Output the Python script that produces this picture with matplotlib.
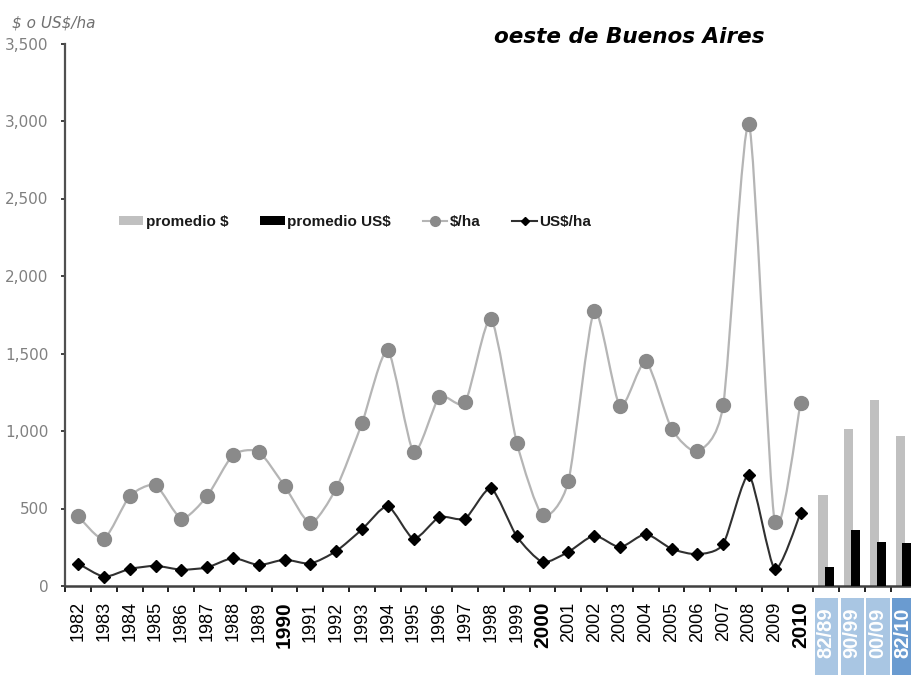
import numpy as np
import matplotlib
matplotlib.use("Agg")
import matplotlib.pyplot as plt
from matplotlib.path import Path
from matplotlib.patches import PathPatch, Patch, Rectangle
from matplotlib.lines import Line2D
import matplotlib.transforms as mtransforms

# ---------------- data ----------------
years = ['1982', '1983', '1984', '1985', '1986', '1987', '1988', '1989', '1990',
         '1991', '1992', '1993', '1994', '1995', '1996', '1997', '1998', '1999',
         '2000', '2001', '2002', '2003', '2004', '2005', '2006', '2007', '2008',
         '2009', '2010']
peso_ha = [450, 305, 580, 650, 435, 580, 845, 865, 645, 405, 630, 1050, 1520, 865,
           1220, 1185, 1725, 925, 455, 675, 1775, 1160, 1450, 1015, 870, 1165, 2980,
           410, 1180]
usd_ha = [145, 60, 110, 130, 105, 120, 180, 135, 170, 145, 225, 365, 515, 305, 445,
          435, 630, 320, 155, 220, 325, 250, 335, 240, 205, 270, 715, 110, 470]
periods = ['82/89', '90/99', '00/09', '82/10']
prom_peso = [585, 1015, 1200, 965]
prom_usd = [125, 360, 285, 275]
bold_years = ['1990', '2000', '2010']
yticks = [0, 500, 1000, 1500, 2000, 2500, 3000, 3500]
ytick_labels = ['0', '500', '1,000', '1,500', '2,000', '2,500', '3,000', '3,500']

# ---------------- style ----------------
C_PESO_LINE = '#b5b5b5'
C_PESO_MARK = '#8a8a8a'
C_USD_LINE = '#303030'
C_BAR_PESO = '#c0c0c0'
C_BAR_USD = '#000000'
C_BOX = '#a9c6e3'
C_BOX_LAST = '#6a9bd0'
TENSION = 1.0 / 9.0


def smooth_path(xs, ys):
    pts = np.column_stack([xs, ys]).astype(float)
    n = len(pts)
    verts = [tuple(pts[0])]
    codes = [Path.MOVETO]
    for i in range(n - 1):
        p0 = pts[i - 1] if i > 0 else pts[i]
        p1 = pts[i]
        p2 = pts[i + 1]
        p3 = pts[i + 2] if i + 2 < n else pts[i + 1]
        c1 = p1 + (p2 - p0) * TENSION
        c2 = p2 - (p3 - p1) * TENSION
        verts += [tuple(c1), tuple(c2), tuple(p2)]
        codes += [Path.CURVE4] * 3
    return Path(verts, codes)


fig = plt.figure(figsize=(9.12, 6.75), dpi=100)
ax_left = 65.3 / 912
ax_bottom = 1 - 586 / 675
ax_top = 1 - 43.5 / 675
ax = fig.add_axes([ax_left, ax_bottom, 1 - ax_left, ax_top - ax_bottom])

x_years = np.arange(len(years))
x_periods = np.arange(len(years), len(years) + len(periods))

# bars
bw = 0.36
ax.bar(x_periods - 0.13, prom_peso, width=bw, color=C_BAR_PESO, zorder=2)
ax.bar(x_periods + 0.13, prom_usd, width=bw, color=C_BAR_USD, zorder=3)

# smoothed lines
ax.add_patch(PathPatch(smooth_path(x_years, peso_ha), fill=False,
                       edgecolor=C_PESO_LINE, lw=1.6, zorder=3))
ax.add_patch(PathPatch(smooth_path(x_years, usd_ha), fill=False,
                       edgecolor=C_USD_LINE, lw=1.5, zorder=3))
ax.plot(x_years, peso_ha, linestyle='none', marker='o', ms=10,
        color=C_PESO_MARK, zorder=4)
ax.plot(x_years, usd_ha, linestyle='none', marker='D', ms=6.5,
        color='black', zorder=5)

ax.set_xlim(-0.5, 32.32)
ax.set_ylim(0, 3500)

# spines
for s in ['top', 'right']:
    ax.spines[s].set_visible(False)
ax.spines['left'].set_color('#505050')
ax.spines['left'].set_linewidth(1.6)
ax.spines['bottom'].set_color('#404040')
ax.spines['bottom'].set_linewidth(1.8)

# y ticks
ax.set_yticks(yticks)
ax.set_yticklabels(ytick_labels, fontsize=11, color='#808080',
                   family='DejaVu Sans')
ax.tick_params(axis='y', direction='out', length=3, width=1.4,
               color='#404040', pad=9)

# x ticks: boundaries as minor ticks, labels at centres
ax.set_xticks(np.arange(-0.5, 32.5, 1.0), minor=True)
ax.set_xticks(x_years)
ax.set_xticklabels(years, rotation=90, family='Liberation Sans',
                   fontsize=13, color='black')
for lbl in ax.get_xticklabels():
    if lbl.get_text() in bold_years:
        lbl.set_fontweight('bold')
        lbl.set_fontsize(15)
ax.tick_params(axis='x', which='major', length=0, pad=11)
ax.tick_params(axis='x', which='minor', direction='out', length=4,
               width=1.4, color='#202020')

# period labels with boxes
trans = mtransforms.blended_transform_factory(ax.transData, ax.transAxes)
for i, (xp, lab) in enumerate(zip(x_periods, periods)):
    last = i == len(periods) - 1
    col = C_BOX_LAST if last else C_BOX
    ax.add_patch(Rectangle((xp - 0.45, -0.25), 0.9, 0.25 - 0.0221,
                           transform=trans, clip_on=False,
                           facecolor=col, edgecolor='none', zorder=1))
    ax.text(xp - (0.05 if last else 0.0), -0.040, lab, transform=trans,
            rotation=90, ha='center', va='top', color='white',
            fontsize=14.5, fontweight='bold', family='Liberation Sans',
            clip_on=False, zorder=2)

# legend
handles = [
    Patch(facecolor=C_BAR_PESO, edgecolor='none'),
    Patch(facecolor=C_BAR_USD, edgecolor='none'),
    Line2D([0], [0], color=C_PESO_LINE, lw=1.5, marker='o', ms=7,
           markerfacecolor=C_PESO_MARK, markeredgecolor=C_PESO_MARK),
    Line2D([0], [0], color=C_USD_LINE, lw=1.5, marker='D', ms=4.5,
           markerfacecolor='black', markeredgecolor='black'),
]
labels = ['promedio \\$', 'promedio US\\$', '\\$/ha', 'US\\$/ha']
leg = fig.legend(handles, labels, loc='center',
                 bbox_to_anchor=(355 / 912, 1 - 222 / 675), ncol=4,
                 frameon=False, handlelength=1.6, handleheight=0.55,
                 handletextpad=0.15, columnspacing=2.1, borderpad=0,
                 prop={'family': 'Liberation Sans', 'weight': 'bold',
                       'size': 11})
for t in leg.get_texts():
    t.set_color('#1a1a1a')

# titles
fig.text(494 / 912, 1 - 37 / 675, 'oeste de Buenos Aires', ha='left',
         va='center', fontsize=15.5, fontweight='bold', style='italic',
         family='DejaVu Sans', color='black')
fig.text(12 / 912, 1 - 23 / 675, '\\$ o US\\$/ha', ha='left', va='center',
         fontsize=11, style='italic', family='DejaVu Sans', color='#707070')

fig.savefig('out.png', dpi=100)
